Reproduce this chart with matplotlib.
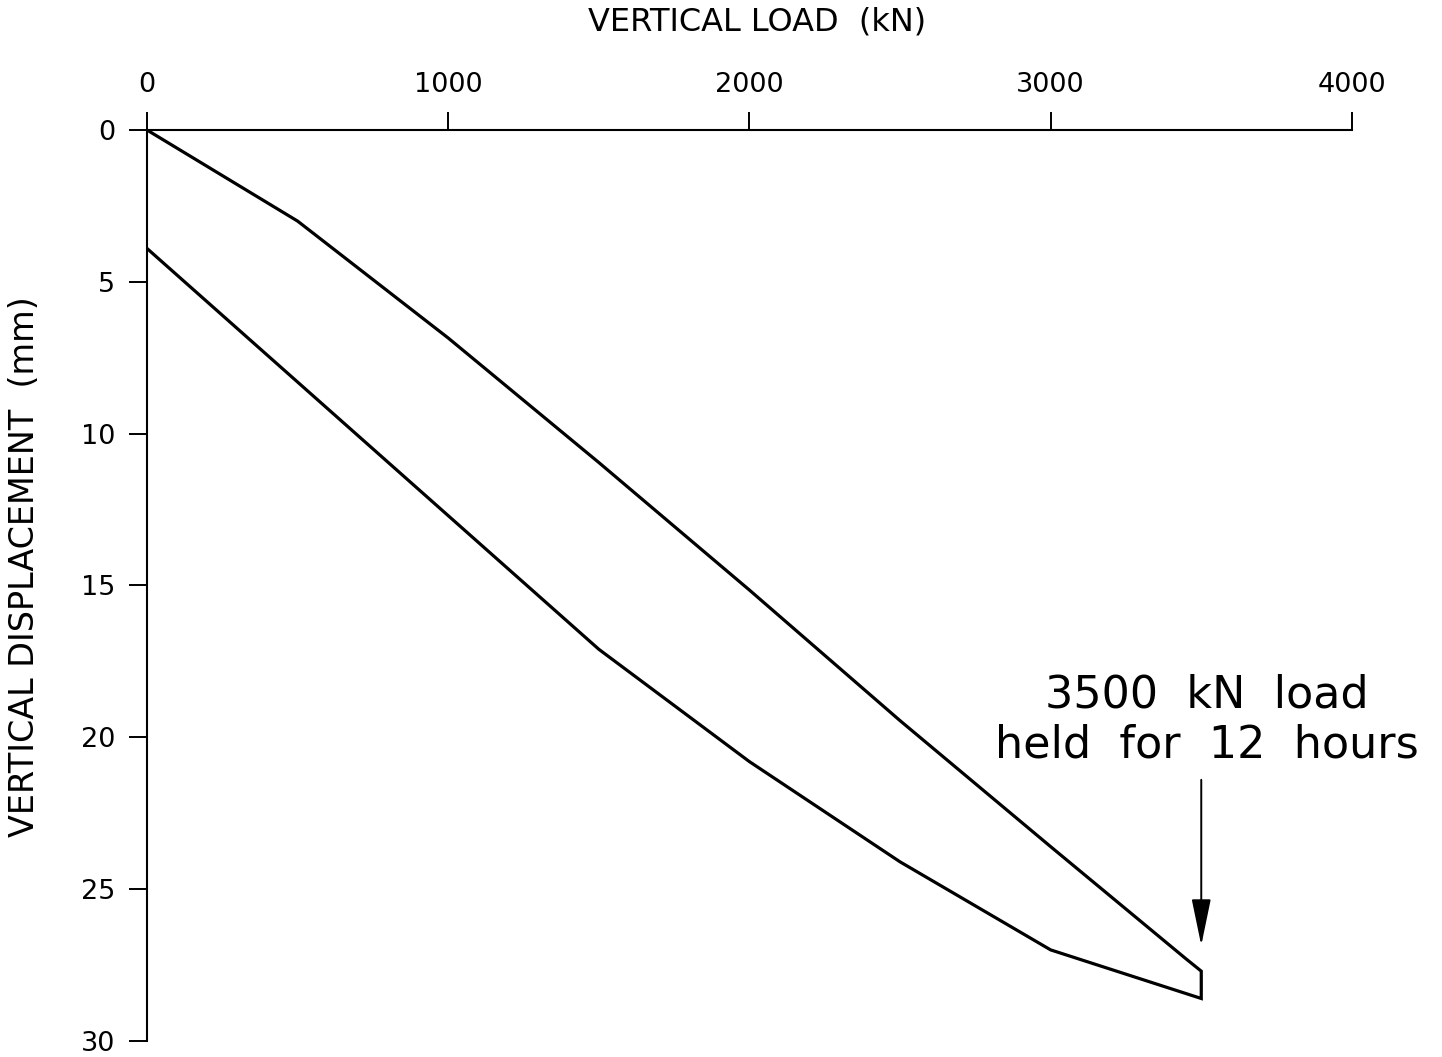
import matplotlib
matplotlib.use("Agg")
from matplotlib import pyplot as plt

# loading branch (kN, mm)
load_up = [0, 500, 1000, 1500, 2000, 2500, 3000, 3450, 3500]
disp_up = [0, 3.0, 6.85, 10.95, 15.15, 19.45, 23.6, 27.3, 27.7]

# held load + unloading branch
load_down = [3500, 3500, 3000, 2500, 2000, 1500, 1000, 500, 0]
disp_down = [27.7, 28.6, 27.0, 24.1, 20.8, 17.1, 12.7, 8.3, 3.9]

x_ticks = [0, 1000, 2000, 3000, 4000]
y_ticks = [0, 5, 10, 15, 20, 25, 30]

plt.rcParams['font.family'] = ['DejaVu Sans']

fig = plt.figure(figsize=(14.42, 10.57), dpi=100)
ax = fig.add_axes([0.1019, 0.01514, 0.8356, 0.8619])

ax.plot(load_up + load_down, disp_up + disp_down, color='black', lw=2.3,
        solid_joinstyle='miter')

ax.set_xlim(0, 4000)
ax.set_ylim(30, 0)
ax.xaxis.tick_top()
ax.set_xticks(x_ticks)
ax.set_yticks(y_ticks)
ax.tick_params(axis='both', direction='out', length=13, width=1.4,
               labelsize=19.5, pad=10)

for side in ['right', 'bottom']:
    ax.spines[side].set_visible(False)
for side in ['top', 'left']:
    ax.spines[side].set_linewidth(1.5)

fig.text(0.525, 0.979, "VERTICAL LOAD  (kN)", ha='center', va='center', fontsize=23)
fig.text(0.017, 0.464, "VERTICAL DISPLACEMENT  (mm)", ha='center', va='center',
         rotation=90, fontsize=24)

ax.text(3520, 20.95, "3500  kN  load\nheld  for  12  hours", ha='center', va='bottom',
        fontsize=32, linespacing=1.2)
ax.annotate("", xy=(3500, 26.85), xytext=(3500, 21.4),
            arrowprops=dict(arrowstyle='-|>,head_length=2.9,head_width=0.6',
                            color='black', lw=1.4, shrinkA=0, shrinkB=0))

plt.savefig("out.png", dpi=100)
